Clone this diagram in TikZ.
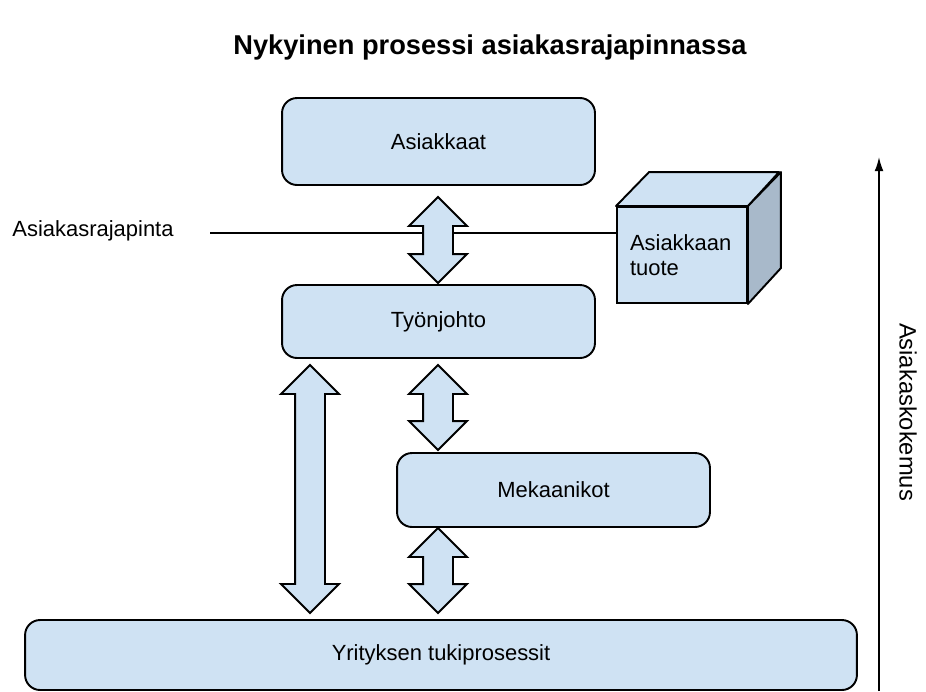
\documentclass[tikz,border=0pt]{standalone}
\usepackage{fontspec}
\setmainfont{Liberation Sans}
\usetikzlibrary{shapes.arrows,arrows.meta}
\definecolor{vaalea}{HTML}{CFE2F3}
\definecolor{kylki}{HTML}{A8B9CA}

\begin{document}
\begin{tikzpicture}[x=0.02cm, y=-0.02cm, font=\fontsize{12.5}{14.2}\selectfont,
		laatikko/.style={draw, line width=1.1pt, rounded corners=0.3cm, fill=vaalea, minimum width=6.26cm},
		nuoli/.style={draw, line width=1.1pt, fill=vaalea, double arrow, rotate=90, inner xsep=0pt, inner ysep=0.28cm, minimum width=1.12cm, double arrow head extend=0.28cm}]
		\useasboundingbox (0,0) rectangle (926,691);
		\node[font=\bfseries\fontsize{15.5}{18}\selectfont] (otsikko) at (490,47) {Nykyinen prosessi asiakasrajapinnassa};
		\node[laatikko, minimum height=1.74cm] (asiakkaat) at (438.5,141.5) {Asiakkaat};
		\node[laatikko, minimum height=1.46cm] (tyonjohto) at (438.5,321.5) {Työnjohto};
		\node[laatikko, minimum height=1.48cm] (mekaanikot) at (553.5,490) {Mekaanikot};
		\node[laatikko, minimum width=16.64cm, minimum height=1.4cm] (tuki) at (441,655) {Yrityksen tukiprosessit};

		\node[draw, line width=1.1pt, fill=vaalea, minimum width=2.6cm, minimum height=1.92cm, inner xsep=0.26cm, text width=2.08cm, align=left] (tuote) at (682,255) {Asiakkaan\\tuote};
		\draw[line width=1.1pt, line join=round, fill=vaalea] (tuote.north west) -- ++(33,-34) -- ++(130,0) -- (tuote.north east) -- cycle;
		\draw[line width=1.1pt, line join=round, fill=kylki] (tuote.north east) -- ++(33,-34) -- ++(0,96) -- (tuote.south east) -- cycle;

		\node (rajapinta) at (93,231) {Asiakasrajapinta};
		\coordinate (rl) at (210,233);
		\draw[line width=0.9pt] (rl) -- (rl -| tuote.west);

		\node[nuoli, minimum height=1.72cm] (n1) at (438,240) {};
		\node[nuoli, minimum height=4.96cm] (n2) at (310,489) {};
		\node[nuoli, minimum height=1.7cm] (n3) at (438,407.5) {};
		\node[nuoli, minimum height=1.7cm] (n4) at (438,570.5) {};

		\coordinate (ka) at (879,691);
		\coordinate (ky) at (879,157);
		\draw[line width=0.9pt, -{Latex[length=8pt,width=5pt]}] (ka) -- (ky);
		\node[rotate=-90, font=\fontsize{13.5}{16}\selectfont] (kokemus) at (908,412) {Asiakaskokemus};
	\end{tikzpicture}
\end{document}
